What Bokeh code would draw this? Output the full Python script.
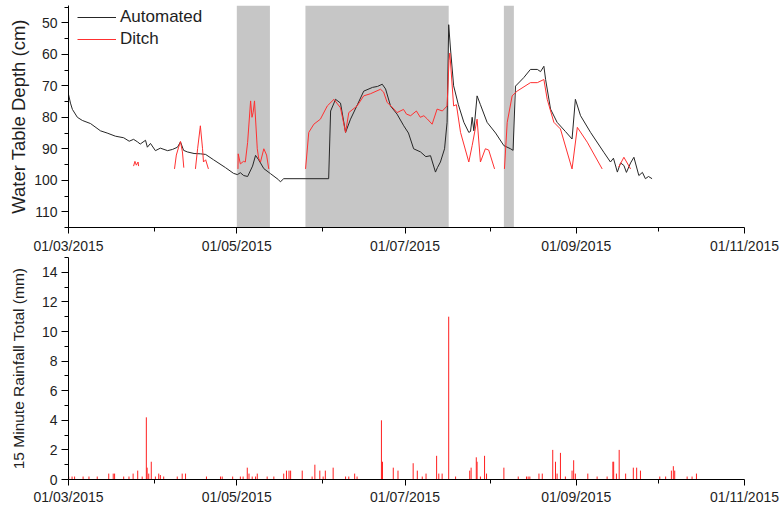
import pandas as pd
from bokeh.plotting import figure
from bokeh.layouts import column
from bokeh.models import (Range1d, FixedTicker, DatetimeTickFormatter, BoxAnnotation,
                          Legend, LegendItem)
from bokeh.embed import file_html
from bokeh.resources import INLINE

NaN = float("nan")

auto_dates = [
    "2015-03-01 00:00", "2015-03-01 17:00", "2015-03-02 10:00", "2015-03-04 05:00", "2015-03-06 00:00",
    "2015-03-09 00:00", "2015-03-12 14:00", "2015-03-15 00:00", "2015-03-18 00:00", "2015-03-21 00:00",
    "2015-03-23 00:00", "2015-03-24 14:00", "2015-03-26 00:00", "2015-03-27 00:00", "2015-03-28 22:00",
    "2015-03-29 14:00", "2015-03-30 17:00", "2015-04-01 12:00", "2015-04-03 07:00", "2015-04-05 22:00",
    "2015-04-07 17:00", "2015-04-09 12:00", "2015-04-10 14:00", "2015-04-11 17:00", "2015-04-13 02:00",
    "2015-04-15 12:00", "2015-04-17 19:00", "2015-04-19 17:00", "2015-04-22 14:00", "2015-04-26 22:00",
    "2015-04-29 19:00", "2015-05-01 05:00", "2015-05-02 07:00", "2015-05-03 12:00", "2015-05-04 22:00",
    "2015-05-06 17:00", "2015-05-07 19:00", "2015-05-08 22:00", "2015-05-10 19:00", "2015-05-13 05:00",
    "2015-05-16 02:00", "2015-05-16 19:00", "2015-05-18 00:00", "2015-06-03 07:00", "2015-06-04 00:00",
    "2015-06-05 19:00", "2015-06-07 14:00", "2015-06-09 10:00", "2015-06-11 05:00", "2015-06-13 17:00",
    "2015-06-16 00:00", "2015-06-19 05:00", "2015-06-21 00:00", "2015-06-22 17:00", "2015-06-23 22:00",
    "2015-06-25 17:00", "2015-06-28 02:00", "2015-06-30 12:00", "2015-07-02 05:00", "2015-07-04 02:00",
    "2015-07-06 14:00", "2015-07-08 12:00", "2015-07-10 05:00", "2015-07-12 00:00", "2015-07-12 17:00",
    "2015-07-13 19:00", "2015-07-15 07:00", "2015-07-16 05:00", "2015-07-16 19:00", "2015-07-17 10:00",
    "2015-07-18 14:00", "2015-07-20 07:00", "2015-07-22 07:00", "2015-07-24 02:00", "2015-07-24 17:00",
    "2015-07-25 07:00", "2015-07-25 22:00", "2015-07-27 02:00", "2015-07-28 07:00", "2015-07-30 17:00",
    "2015-08-02 19:00", "2015-08-05 19:00", "2015-08-08 05:00", "2015-08-09 03:00", "2015-08-10 00:00",
    "2015-08-11 19:00", "2015-08-13 00:00", "2015-08-15 10:00", "2015-08-17 22:00", "2015-08-19 02:00",
    "2015-08-20 07:00", "2015-08-20 22:00", "2015-08-22 17:00", "2015-08-25 02:00", "2015-08-28 02:00",
    "2015-08-30 12:00", "2015-08-31 17:00", "2015-09-02 14:00", "2015-09-06 05:00", "2015-09-11 00:00",
    "2015-09-13 10:00", "2015-09-14 12:00", "2015-09-15 22:00", "2015-09-17 02:00", "2015-09-18 07:00",
    "2015-09-19 05:00", "2015-09-20 17:00", "2015-09-21 22:00", "2015-09-23 17:00", "2015-09-25 00:00",
    "2015-09-26 02:00", "2015-09-27 05:00", "2015-09-28 12:00",
]
auto_depth = [
    72.7, 75.5, 77.5, 80.0, 81.0,
    82.0, 84.3, 85.0, 86.0, 86.5,
    87.6, 87.0, 87.8, 88.5, 87.3,
    89.5, 88.3, 90.6, 89.8, 90.6,
    90.2, 89.5, 87.8, 90.5, 91.0,
    91.5, 91.6, 91.8, 93.5, 96.0,
    97.8, 98.2, 97.6, 98.5, 98.8,
    95.5, 92.1, 93.5, 96.3, 97.9,
    99.8, 100.5, 99.5, 99.5, 78.0,
    74.3, 75.5, 84.8, 80.6, 76.0,
    71.7, 70.5, 70.2, 69.5, 71.0,
    76.4, 79.0, 82.7, 85.0, 90.0,
    91.0, 92.5, 92.2, 97.4, 96.0,
    94.2, 90.0, 81.6, 50.6, 58.0,
    70.0, 76.0, 81.6, 84.8, 84.5,
    80.0, 84.3, 73.2, 76.0, 81.6,
    85.0, 89.0, 90.0, 90.5, 70.1,
    68.5, 67.4, 64.8, 64.8, 65.5,
    63.8, 68.0, 77.4, 81.6, 84.5,
    86.9, 74.3, 79.5, 84.8, 91.1,
    94.2, 93.0, 97.4, 94.5, 95.3,
    97.5, 94.5, 92.7, 98.5, 97.5,
    99.5, 98.8, 99.5,
]

ditch_dates = [
    "2015-03-24 14:00", "2015-03-25 02:00", "2015-03-25 14:00", "2015-03-26 05:00", "2015-03-26 10:00",
    "2015-03-26 11:00",
    "2015-04-08 10:00", "2015-04-09 02:00", "2015-04-09 22:00", "2015-04-10 14:00", "2015-04-11 07:00",
    "2015-04-11 19:00", "2015-04-11 20:00",
    "2015-04-16 00:00", "2015-04-16 19:00", "2015-04-17 19:00", "2015-04-18 14:00", "2015-04-18 22:00",
    "2015-04-19 17:00", "2015-04-20 17:00", "2015-04-20 18:00",
    "2015-05-01 10:00", "2015-05-01 12:00", "2015-05-02 07:00", "2015-05-03 10:00", "2015-05-04 02:00",
    "2015-05-04 22:00", "2015-05-06 00:00", "2015-05-06 12:00", "2015-05-06 22:00", "2015-05-07 10:00",
    "2015-05-08 10:00", "2015-05-08 22:00", "2015-05-09 14:00", "2015-05-10 19:00", "2015-05-11 19:00",
    "2015-05-12 14:00", "2015-05-12 15:00",
    "2015-05-25 22:00", "2015-05-27 02:00", "2015-05-28 22:00", "2015-05-31 07:00", "2015-06-02 19:00",
    "2015-06-05 05:00", "2015-06-07 14:00", "2015-06-09 10:00", "2015-06-10 14:00", "2015-06-13 14:00",
    "2015-06-16 00:00", "2015-06-18 12:00", "2015-06-22 02:00", "2015-06-23 05:00", "2015-06-24 12:00",
    "2015-06-26 00:00", "2015-06-28 02:00", "2015-06-30 10:00", "2015-07-01 12:00", "2015-07-03 00:00",
    "2015-07-05 02:00", "2015-07-06 12:00", "2015-07-07 19:00", "2015-07-09 00:00", "2015-07-10 19:00",
    "2015-07-12 14:00", "2015-07-14 12:00", "2015-07-16 05:00", "2015-07-16 22:00", "2015-07-17 05:00",
    "2015-07-18 14:00", "2015-07-19 14:00", "2015-07-21 02:00", "2015-07-24 02:00", "2015-07-25 07:00",
    "2015-07-27 02:00", "2015-07-28 07:00", "2015-07-30 02:00", "2015-07-31 07:00", "2015-08-02 10:00",
    "2015-08-02 11:00",
    "2015-08-06 00:00", "2015-08-07 00:00", "2015-08-08 19:00", "2015-08-10 14:00", "2015-08-15 10:00",
    "2015-08-17 22:00", "2015-08-20 07:00", "2015-08-21 12:00", "2015-08-23 22:00", "2015-08-26 07:00",
    "2015-08-30 12:00", "2015-09-01 10:00", "2015-09-05 00:00", "2015-09-10 10:00", "2015-09-10 11:00",
    "2015-09-16 10:00", "2015-09-18 07:00", "2015-09-20 17:00",
]
ditch_depth = [
    95.5, 94.0, 95.2, 94.2, 95.5,
    NaN,
    96.4, 92.0, 89.5, 87.7, 91.0,
    96.0, NaN,
    96.4, 90.0, 82.7, 90.0, 94.2,
    93.5, 96.4, NaN,
    96.4, 91.6, 94.8, 94.0, 94.2,
    88.0, 74.8, 80.0, 78.5, 74.8,
    90.0, 93.0, 94.2, 90.0, 92.0,
    96.4, NaN,
    96.4, 84.8, 82.2, 80.6, 76.4,
    74.3, 77.0, 84.8, 78.5, 76.4,
    73.2, 72.5, 71.1, 72.0, 75.3,
    76.5, 78.5, 77.5, 79.0, 79.5,
    78.0, 80.0, 79.5, 80.5, 82.2,
    77.4, 78.0, 76.4, 62.0, 59.6,
    76.4, 76.0, 84.8, 94.2, 89.0,
    80.6, 94.2, 90.0, 90.4, 96.4,
    NaN,
    96.4, 81.6, 73.2, 71.7, 69.0,
    69.0, 68.0, 74.3, 81.6, 83.7,
    96.4, 83.2, 87.9, 96.4, NaN,
    95.8, 92.7, 96.4,
]

shade_start = ["2015-05-01 00:00", "2015-05-25 21:00", "2015-08-05 19:00"]
shade_end = ["2015-05-13 00:00", "2015-07-16 19:00", "2015-08-09 10:00"]

rain_dates = [
    "2015-03-01 02:00", "2015-03-02 07:00", "2015-03-03 05:00", "2015-03-06 07:00", "2015-03-08 10:00",
    "2015-03-11 10:00", "2015-03-15 14:00", "2015-03-17 05:00", "2015-03-17 17:00", "2015-03-21 00:00",
    "2015-03-22 22:00", "2015-03-24 10:00", "2015-03-26 02:00", "2015-03-27 17:00", "2015-03-29 05:00",
    "2015-03-29 12:00", "2015-03-30 02:00", "2015-03-31 00:00", "2015-04-01 12:00", "2015-04-02 17:00",
    "2015-04-03 07:00", "2015-04-04 12:00", "2015-04-09 10:00", "2015-04-11 05:00", "2015-04-12 10:00",
    "2015-04-20 00:00", "2015-04-25 02:00", "2015-04-25 17:00", "2015-04-29 12:00", "2015-05-02 07:00",
    "2015-05-03 07:00", "2015-05-04 19:00", "2015-05-05 10:00", "2015-05-06 14:00", "2015-05-07 19:00",
    "2015-05-08 10:00", "2015-05-12 00:00", "2015-05-14 10:00", "2015-05-18 00:00", "2015-05-19 00:00",
    "2015-05-19 22:00", "2015-05-20 12:00", "2015-05-24 17:00", "2015-05-28 07:00", "2015-05-29 07:00",
    "2015-05-31 02:00", "2015-06-01 07:00", "2015-06-02 02:00", "2015-06-04 22:00", "2015-06-09 10:00",
    "2015-06-10 14:00", "2015-06-12 17:00", "2015-06-13 14:00", "2015-06-22 10:00", "2015-06-22 19:00",
    "2015-06-26 17:00", "2015-06-28 10:00", "2015-07-03 22:00", "2015-07-05 10:00", "2015-07-07 05:00",
    "2015-07-08 14:00", "2015-07-12 10:00", "2015-07-13 05:00", "2015-07-14 10:00", "2015-07-16 19:00",
    "2015-07-19 07:00", "2015-07-24 10:00", "2015-07-24 22:00", "2015-07-26 19:00", "2015-07-27 02:00",
    "2015-07-28 07:00", "2015-07-29 19:00", "2015-07-30 12:00", "2015-08-05 19:00", "2015-08-11 00:00",
    "2015-08-14 00:00", "2015-08-14 14:00", "2015-08-15 05:00", "2015-08-18 12:00", "2015-08-19 17:00",
    "2015-08-23 12:00", "2015-08-24 12:00", "2015-08-25 02:00", "2015-08-26 07:00", "2015-08-28 02:00",
    "2015-08-30 12:00", "2015-08-31 02:00", "2015-08-31 17:00", "2015-09-05 05:00", "2015-09-08 14:00",
    "2015-09-12 05:00", "2015-09-14 07:00", "2015-09-14 14:00", "2015-09-15 14:00", "2015-09-16 14:00",
    "2015-09-18 22:00", "2015-09-21 17:00", "2015-09-22 22:00", "2015-09-24 07:00", "2015-10-01 07:00",
    "2015-10-03 10:00", "2015-10-05 12:00", "2015-10-06 05:00", "2015-10-06 17:00", "2015-10-11 05:00",
    "2015-10-13 00:00", "2015-10-14 14:00",
]
rain_mm = [
    0.2, 0.2, 0.2, 0.2, 0.2,
    0.2, 0.4, 0.4, 0.4, 0.2,
    0.2, 0.4, 0.6, 0.2, 4.2,
    0.8, 0.4, 1.2, 0.2, 0.4,
    0.3, 0.2, 0.2, 0.4, 0.4,
    0.2, 0.2, 0.2, 0.2, 0.2,
    0.2, 0.8, 0.4, 0.2, 0.2,
    0.4, 0.2, 0.2, 0.4, 0.6,
    0.6, 0.6, 0.6, 0.2, 1.0,
    0.6, 0.2, 0.6, 0.8, 0.2,
    0.2, 0.4, 0.2, 4.0, 1.2,
    0.8, 0.6, 1.1, 0.6, 0.2,
    0.4, 1.6, 0.4, 0.4, 11.0,
    0.2, 0.6, 0.8, 1.5, 1.2,
    0.2, 1.6, 0.4, 0.8, 0.2,
    0.2, 0.2, 0.2, 0.4, 0.4,
    2.0, 1.2, 0.4, 1.8, 0.2,
    0.6, 1.3, 0.4, 0.4, 0.2,
    0.2, 1.2, 1.2, 0.4, 2.0,
    0.4, 0.8, 0.8, 0.6, 0.2,
    0.2, 0.6, 0.9, 0.6, 0.2,
    0.2, 0.4,
]

x_major = ["2015-03-01", "2015-05-01", "2015-07-01", "2015-09-01", "2015-11-01"]
x_minor = ["2015-04-01", "2015-06-01", "2015-08-01", "2015-10-01"]
depth_major = [50, 60, 70, 80, 90, 100, 110]
depth_minor = [45, 55, 65, 75, 85, 95, 105, 115]
rain_major = [0, 2, 4, 6, 8, 10, 12, 14]
rain_minor = [1, 3, 5, 7, 9, 11, 13, 15]


def to_dt(lst):
    return pd.to_datetime(lst)


def to_ms(lst):
    return [float(v) for v in (pd.to_datetime(lst).astype("int64") // 10**6)]


FONT = "Liberation Sans"
TXT = "#1e1e1e"
fmt = "%d/%m/%Y"
x_range = Range1d(start=to_ms(x_major)[0], end=to_ms(x_major)[-1])


def style(p, ylab, ysize, ystandoff):
    p.outline_line_color = None
    p.grid.visible = False
    p.background_fill_color = "white"
    p.border_fill_color = "white"
    for ax in p.axis:
        ax.axis_line_color = "black"
        ax.axis_line_width = 1
        ax.major_tick_line_color = "black"
        ax.minor_tick_line_color = "black"
        ax.major_tick_in = 0
        ax.minor_tick_in = 0
        ax.minor_tick_out = 4
        ax.major_label_text_font = FONT
        ax.major_label_text_font_size = "14px"
        ax.major_label_text_color = TXT
        ax.axis_label_text_font = FONT
        ax.axis_label_text_font_style = "normal"
        ax.axis_label_text_color = TXT
    p.xaxis.major_tick_out = 6
    p.xaxis.major_label_standoff = 4
    p.yaxis.major_tick_out = 7
    p.yaxis.major_label_standoff = 4
    p.xaxis.ticker = FixedTicker(ticks=to_ms(x_major), minor_ticks=to_ms(x_minor))
    p.xaxis.formatter = DatetimeTickFormatter(
        milliseconds=fmt, seconds=fmt, minsec=fmt, minutes=fmt, hourmin=fmt,
        hours=fmt, days=fmt, months=fmt, years=fmt)
    p.yaxis.axis_label = ylab
    p.yaxis.axis_label_text_font_size = ysize
    p.yaxis.axis_label_standoff = ystandoff


# ---------- top panel ----------
top = figure(width=781, height=256, x_axis_type="datetime", x_range=x_range,
             y_range=Range1d(start=115, end=44.5),
             output_backend="svg", toolbar_location=None,
             min_border_left=68, min_border_right=37, min_border_top=5, min_border_bottom=27)

for s, e in zip(to_ms(shade_start), to_ms(shade_end)):
    top.add_layout(BoxAnnotation(left=s, right=e, fill_color="#c6c6c6", fill_alpha=1.0,
                                 line_color=None, level="underlay"))

r_auto = top.line(to_dt(auto_dates), auto_depth, line_color="#262626", line_width=1)
r_ditch = top.line(to_dt(ditch_dates), ditch_depth, line_color="#ff3030", line_width=1)

style(top, "Water Table Depth (cm)", "18.5px", 2)
top.yaxis.ticker = FixedTicker(ticks=depth_major, minor_ticks=depth_minor)

legend = Legend(items=[LegendItem(label="Automated", renderers=[r_auto]),
                       LegendItem(label="Ditch", renderers=[r_ditch])],
                location=(9, 178), border_line_color=None, background_fill_alpha=0,
                padding=0, margin=0, spacing=2, glyph_width=39, glyph_height=20,
                label_height=20, label_standoff=4,
                label_text_font=FONT, label_text_font_size="17px", label_text_color=TXT)
top.add_layout(legend)

# ---------- bottom panel ----------
bot = figure(width=781, height=253, x_axis_type="datetime", x_range=x_range,
             y_range=Range1d(start=0, end=15),
             output_backend="svg", toolbar_location=None,
             min_border_left=68, min_border_right=37, min_border_top=1, min_border_bottom=30)
rain_x = to_dt(rain_dates)
bot.segment(x0=rain_x, y0=[0] * len(rain_mm), x1=rain_x, y1=rain_mm,
            line_color="#ff1f1f", line_width=1)
bot.line(x=[rain_x.min(), rain_x.max()], y=[0, 0], line_color="#b01010", line_width=1)
style(bot, "15 Minute Rainfall Total (mm)", "15.5px", 12)
bot.yaxis.ticker = FixedTicker(ticks=rain_major, minor_ticks=rain_minor)
bot.xaxis.major_label_standoff = 3

layout = column(top, bot, spacing=0)
open("out.html", "w").write(file_html(layout, INLINE))
